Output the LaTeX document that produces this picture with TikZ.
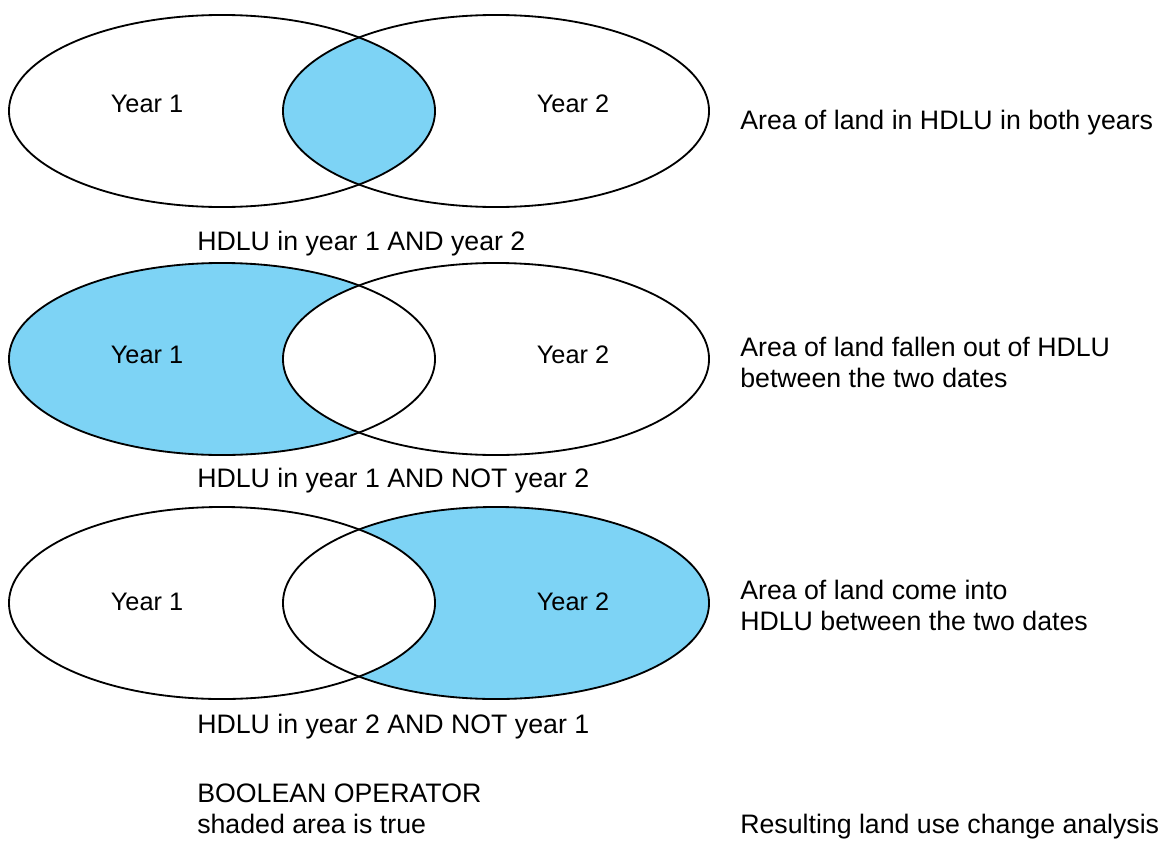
\documentclass[tikz,border=0pt]{standalone}
\usepackage{fontspec}
\setmainfont{Liberation Sans}
\usepackage{tikz}

\definecolor{hdlublue}{RGB}{125,211,245}

\tikzset{
  oval/.style={x radius=5.325cm,y radius=2.4cm},
  ring/.style={draw=black,line width=1.3pt},
  yr/.style={anchor=base,inner sep=0pt,font=\fontsize{18}{22}\selectfont},
  lbl/.style={anchor=base west,inner sep=0pt,align=left,font=\fontsize{19}{22}\selectfont}
}

\begin{document}
\begin{tikzpicture}[x=0.025cm,y=-0.025cm]
\useasboundingbox (0,0) rectangle (1161,841);
\fill[white] (0,0) rectangle (1161,841);

% year 1 AND year 2
\begin{scope}
\clip (222,111) ellipse [oval];
\fill[hdlublue] (496,111) ellipse [oval];
\end{scope}
\draw[ring] (222,111) ellipse [oval];
\draw[ring] (496,111) ellipse [oval];
\node (and1) [yr] at (147,112) {Year 1};
\node (and2) [yr] at (573,112) {Year 2};
\node (andop) [lbl] at (197,250) {HDLU in year 1 AND year 2};
\node (andres) [lbl] at (740,129) {Area of land in HDLU in both years};

% year 1 AND NOT year 2
\fill[hdlublue] (222,359) ellipse [oval];
\fill[white] (496,359) ellipse [oval];
\draw[ring] (222,359) ellipse [oval];
\draw[ring] (496,359) ellipse [oval];
\node (not1) [yr] at (147,363) {Year 1};
\node (not2) [yr] at (573,363) {Year 2};
\node (notop) [lbl] at (197,487) {HDLU in year 1 AND NOT year 2};
\node (notres) [lbl] at (740,387) {Area of land fallen out of HDLU\\between the two dates};

% year 2 AND NOT year 1
\fill[hdlublue] (496,603) ellipse [oval];
\fill[white] (222,603) ellipse [oval];
\draw[ring] (222,603) ellipse [oval];
\draw[ring] (496,603) ellipse [oval];
\node (new1) [yr] at (147,610) {Year 1};
\node (new2) [yr] at (573,610) {Year 2};
\node (newop) [lbl] at (197,733) {HDLU in year 2 AND NOT year 1};
\node (newres) [lbl] at (740,630) {Area of land come into\\HDLU between the two dates};

% column heads
\node (ophead) [lbl] at (197,833) {BOOLEAN OPERATOR\\shaded area is true};
\node (reshead) [lbl] at (740,833) {Resulting land use change analysis};
\end{tikzpicture}
\end{document}
